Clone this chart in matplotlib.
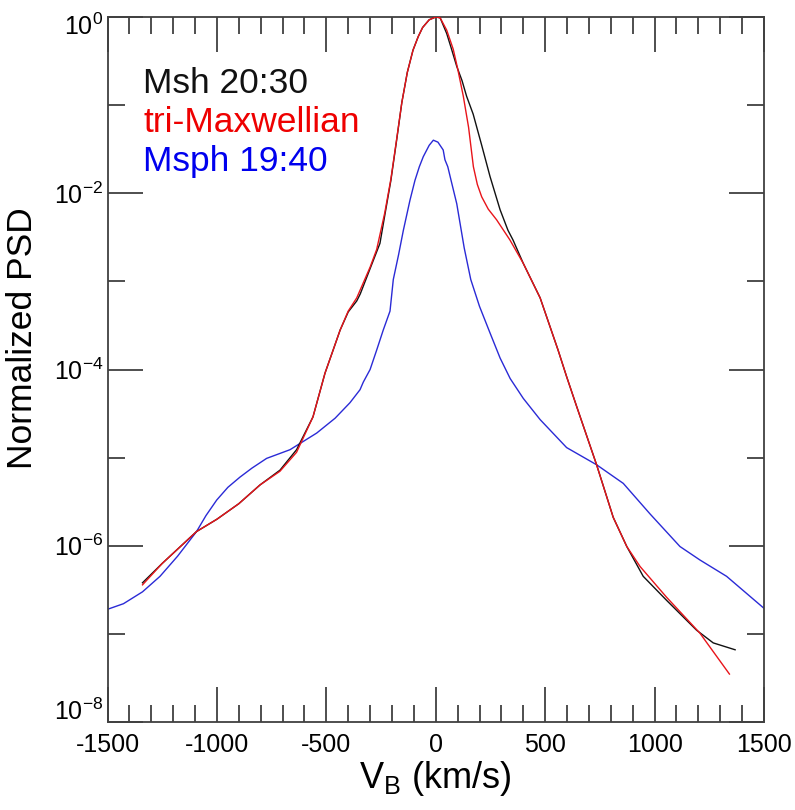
import matplotlib
matplotlib.use("Agg")
import matplotlib.pyplot as plt
import matplotlib.transforms as mtransforms
from matplotlib.ticker import FixedLocator, FixedFormatter

plt.rcParams['font.family'] = ['Liberation Sans', 'DejaVu Sans']
plt.rcParams['mathtext.fontset'] = 'custom'
plt.rcParams['mathtext.rm'] = 'Liberation Sans'
plt.rcParams['mathtext.it'] = 'Liberation Sans:italic'
plt.rcParams['mathtext.bf'] = 'Liberation Sans:bold'

# ---- data ----
msh_v = [-1340, -1250, -1093, -1000, -900, -803, -712, -636, -561, -506, -469,
         -437, -400, -361, -345, -285, -255, -233, -205, -180, -155, -130,
         -104, -80, -60, -30, 0, 20, 50, 70, 96, 120, 141, 171, 210, 248, 294,
         330, 353, 400, 477, 559, 598, 644, 735, 811, 873, 948, 1055, 1192,
         1268, 1368]
msh_psd = [3.8e-7, 6.3e-7, 1.45e-6, 2.0e-6, 3.0e-6, 4.9e-6, 7.2e-6, 1.23e-5,
           2.9e-5, 9.1e-5, 1.66e-4, 2.8e-4, 4.5e-4, 6.0e-4, 7.2e-4, 1.74e-3,
           2.7e-3, 5.6e-3, 1.4e-2, 3.8e-2, 1.07e-1, 2.35e-1, 4.2e-1, 6.0e-1,
           7.6e-1, 9.3e-1, 1.0, 9.8e-1, 6.5e-1, 4.5e-1, 2.75e-1, 1.9e-1,
           1.26e-1, 7.9e-2, 3.5e-2, 1.55e-2, 6.5e-3, 3.8e-3, 2.95e-3, 1.6e-3,
           6.5e-4, 1.66e-4, 8.3e-5, 3.8e-5, 8.3e-6, 2.1e-6, 9.8e-7, 4.5e-7,
           2.4e-7, 1.1e-7, 7.9e-8, 6.6e-8]

tri_v = [-1340, -1250, -1093, -1000, -900, -803, -712, -636, -561, -506, -469,
         -437, -400, -361, -300, -270, -233, -205, -180, -155, -130, -104, -80,
         -60, -30, 0, 20, 50, 80, 100, 126, 150, 172, 190, 210, 240, 278, 339,
         400, 477, 559, 598, 644, 735, 811, 873, 934, 1055, 1207, 1342]
tri_psd = [3.6e-7, 6.3e-7, 1.45e-6, 2.0e-6, 3.0e-6, 4.9e-6, 7.0e-6, 1.15e-5,
           2.9e-5, 9.1e-5, 1.66e-4, 2.8e-4, 4.6e-4, 6.5e-4, 1.45e-3, 2.3e-3,
           6.0e-3, 1.45e-2, 3.9e-2, 1.07e-1, 2.35e-1, 4.2e-1, 6.0e-1, 7.6e-1,
           9.3e-1, 1.0, 9.8e-1, 7.1e-1, 4.3e-1, 2.6e-1, 1.26e-1, 5.6e-2,
           2.0e-2, 1.26e-2, 9.1e-3, 6.6e-3, 5.0e-3, 2.95e-3, 1.6e-3, 6.5e-4,
           1.66e-4, 8.3e-5, 3.8e-5, 8.3e-6, 2.1e-6, 9.8e-7, 5.8e-7, 2.6e-7,
           1.02e-7, 3.5e-8]

msph_v = [-1500, -1427, -1340, -1260, -1180, -1093, -1050, -1001, -950, -895,
          -840, -773, -666, -544, -460, -392, -346, -331, -300, -270, -240,
          -209, -194, -170, -148, -118, -95, -75, -57, -30, -11, 10, 34, 42,
          55, 70, 96, 130, 160, 200, 248, 294, 340, 400, 477, 598, 735, 857,
          979, 1116, 1207, 1329, 1500]
msph_psd = [1.9e-7, 2.2e-7, 3.0e-7, 4.5e-7, 7.6e-7, 1.45e-6, 2.2e-6, 3.3e-6,
            4.6e-6, 6.0e-6, 7.6e-6, 9.8e-6, 1.23e-5, 1.9e-5, 2.8e-5, 4.2e-5,
            5.9e-5, 7.2e-5, 1.0e-4, 1.66e-4, 2.8e-4, 4.6e-4, 1.05e-3, 2.0e-3,
            3.8e-3, 8.3e-3, 1.4e-2, 2.0e-2, 2.6e-2, 3.5e-2, 4.0e-2, 3.8e-2,
            3.1e-2, 2.4e-2, 2.0e-2, 1.4e-2, 7.6e-3, 2.4e-3, 1.05e-3, 5.2e-4,
            2.6e-4, 1.35e-4, 7.9e-5, 4.7e-5, 2.7e-5, 1.3e-5, 8.3e-6, 5.1e-6,
            2.3e-6, 9.8e-7, 6.9e-7, 4.5e-7, 1.95e-7]

x_major = [-1500, -1000, -500, 0, 500, 1000, 1500]
x_labels = ['-1500', '-1000', '-500', '0', '500', '1000', '1500']
x_minor = [-1400, -1300, -1200, -1100, -900, -800, -700, -600, -400, -300,
           -200, -100, 100, 200, 300, 400, 600, 700, 800, 900, 1100, 1200,
           1300, 1400]
y_major = [1e-8, 1e-6, 1e-4, 1e-2, 1e0]
y_labels = [r'10$^{\mathregular{-8}}$', r'10$^{\mathregular{-6}}$',
            r'10$^{\mathregular{-4}}$', r'10$^{\mathregular{-2}}$',
            r'10$^{\mathregular{0}}$']
y_minor = [1e-7, 1e-5, 1e-3, 1e-1]

legend_texts = ['Msh 20:30', 'tri-Maxwellian', 'Msph 19:40']
c_black, c_red, c_blue = '#111111', '#e8141a', '#2a2ad6'

# ---- figure ----
W, H = 795, 810
fig = plt.figure(figsize=(W / 100, H / 100), dpi=100)
L, R, T, B = 107.5, 764, 17, 722
ax = fig.add_axes([L / W, 1 - B / H, (R - L) / W, (B - T) / H])

ax.plot(msh_v, msh_psd, color=c_black, lw=1.0, zorder=3)
ax.plot(tri_v, tri_psd, color=c_red, lw=1.0, zorder=4)
ax.plot(msph_v, msph_psd, color=c_blue, lw=1.0, zorder=2)

ax.set_yscale('log')
ax.set_xlim(-1500, 1500)
ax.set_ylim(1e-8, 1e0)

ax.xaxis.set_major_locator(FixedLocator(x_major))
ax.xaxis.set_major_formatter(FixedFormatter(x_labels))
ax.xaxis.set_minor_locator(FixedLocator(x_minor))
ax.yaxis.set_major_locator(FixedLocator(y_major))
ax.yaxis.set_major_formatter(FixedFormatter(y_labels))
ax.yaxis.set_minor_locator(FixedLocator(y_minor))
ax.yaxis.set_minor_formatter(FixedFormatter([''] * len(y_minor)))

sc = '#404040'
for s in ax.spines.values():
    s.set_color(sc)
    s.set_linewidth(1.3)
ax.tick_params(which='both', direction='in', top=True, right=True,
               color=sc, width=1.3, labelsize=18)
ax.tick_params(which='major', length=25)
ax.tick_params(which='minor', length=12.5)
ax.tick_params(axis='x', which='major', pad=8)
ax.tick_params(axis='y', which='major', pad=3)

# nudge the extreme y labels inward (as in the reference)
shifts = {0: 9, 4: -5}
for i, lab in enumerate(ax.yaxis.get_majorticklabels()):
    if i in shifts:
        off = mtransforms.ScaledTranslation(0, shifts[i] / 72, fig.dpi_scale_trans)
        lab.set_transform(lab.get_transform() + off)

fig.text(23 / W, 1 - 338 / H, 'Normalized PSD', rotation=90, ha='center',
         va='center', fontsize=25.5)
fig.text(435 / W, 1 - 778 / H, r'V$_\mathregular{B}$ (km/s)', ha='center',
         va='center', fontsize=26)

for txt, col, yb in zip(legend_texts, [c_black, '#ee0000', '#0000ee'], [93, 132, 171]):
    fig.text(143 / W, 1 - yb / H, txt, color=col, fontsize=25.5,
             ha='left', va='baseline')

fig.savefig('out.png', dpi=100)
